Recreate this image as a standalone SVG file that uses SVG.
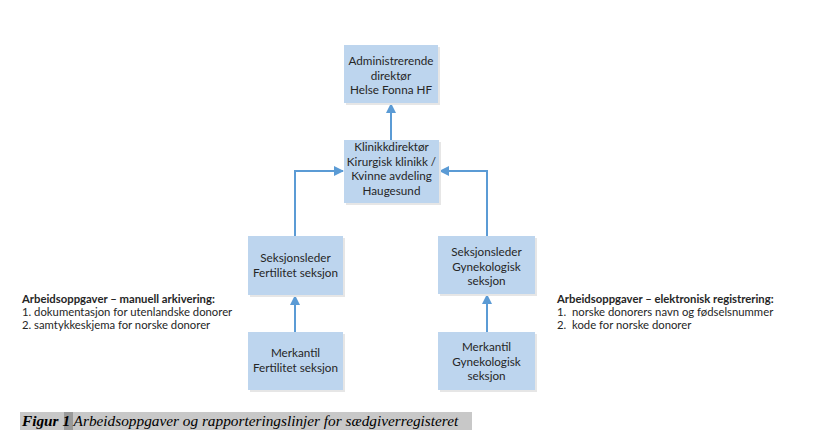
<svg xmlns="http://www.w3.org/2000/svg" width="814" height="447" viewBox="0 0 814 447">
<style>
.box{fill:#BDD5EE;stroke:none}
.sh{fill:#e6e6e6}
.t{font-family:Lato,"Liberation Sans",sans-serif;font-size:11.7px;fill:#262626;text-anchor:middle}
.n{font-family:Lato,"Liberation Sans",sans-serif;font-size:11.3px;fill:#262626}
.c{fill:none;stroke:#5B9BD5;stroke-width:2}
.cap{font-family:"Liberation Serif",serif;font-size:15.3px;font-style:italic;fill:#000}
</style>
<defs>
<marker id="ah" markerUnits="userSpaceOnUse" markerWidth="10" markerHeight="10" refX="9" refY="5" orient="auto">
<path d="M0,0 L10,5 L0,10 Z" fill="#5B9BD5"/>
</marker>
</defs>
<rect width="814" height="447" fill="#fff"/>
<g id="connectors">
<path class="c" d="M391,140 V104" marker-end="url(#ah)"/>
<path class="c" d="M295,236 V171 H343" marker-end="url(#ah)"/>
<path class="c" d="M487,236 V171 H440" marker-end="url(#ah)"/>
<path class="c" d="M295,332 V296" marker-end="url(#ah)"/>
<path class="c" d="M487,332 V295" marker-end="url(#ah)"/>
</g>
<g id="admin">
<rect class="sh" x="346" y="47" width="94" height="58"/>
<rect class="box" x="344" y="45" width="94" height="58"/>
<text class="t" x="391" y="65">Administrerende</text>
<text class="t" x="391" y="79.5">direktør</text>
<text class="t" x="391" y="94">Helse Fonna HF</text>
</g>
<g id="klinikk">
<rect class="sh" x="346" y="142" width="95" height="63"/>
<rect class="box" x="344" y="140" width="95" height="63"/>
<text class="t" x="391.5" y="151">Klinikkdirektør</text>
<text class="t" x="391.5" y="165.5">Kirurgisk klinikk /</text>
<text class="t" x="391.5" y="180">Kvinne avdeling</text>
<text class="t" x="391.5" y="194.5">Haugesund</text>
</g>
<g id="seksjon-fert">
<rect class="sh" x="250" y="238" width="95" height="59"/>
<rect class="box" x="248" y="236" width="95" height="59"/>
<text class="t" x="295.5" y="262">Seksjonsleder</text>
<text class="t" x="295.5" y="277">Fertilitet seksjon</text>
</g>
<g id="merkantil-fert">
<rect class="sh" x="250" y="334" width="95" height="58"/>
<rect class="box" x="248" y="332" width="95" height="58"/>
<text class="t" x="295.5" y="357">Merkantil</text>
<text class="t" x="295.5" y="372">Fertilitet seksjon</text>
</g>
<g id="seksjon-gyn">
<rect class="sh" x="440" y="238" width="97" height="58"/>
<rect class="box" x="438" y="236" width="97" height="58"/>
<text class="t" x="486.5" y="256">Seksjonsleder</text>
<text class="t" x="486.5" y="270.5">Gynekologisk</text>
<text class="t" x="486.5" y="285">seksjon</text>
</g>
<g id="merkantil-gyn">
<rect class="sh" x="440" y="334" width="97" height="58"/>
<rect class="box" x="438" y="332" width="97" height="58"/>
<text class="t" x="486.5" y="351">Merkantil</text>
<text class="t" x="486.5" y="365.5">Gynekologisk</text>
<text class="t" x="486.5" y="380">seksjon</text>
</g>
<g id="left-notes">
<text class="n" x="22" y="303" font-weight="bold">Arbeidsoppgaver – manuell arkivering:</text>
<text class="n" x="22" y="316">1. dokumentasjon for utenlandske donorer</text>
<text class="n" x="22" y="329">2. samtykkeskjema for norske donorer</text>
</g>
<g id="right-notes">
<text class="n" x="557" y="303" font-weight="bold">Arbeidsoppgaver – elektronisk registrering:</text>
<text class="n" x="557" y="316">1.</text>
<text class="n" x="572" y="316">norske donorers navn og fødselsnummer</text>
<text class="n" x="557" y="329">2.</text>
<text class="n" x="572" y="329">kode for norske donorer</text>
</g>
<g id="caption">
<rect x="20" y="412" width="452" height="18" fill="#c8c8c8"/>
<rect x="64" y="412" width="9" height="18" fill="#9a9a9a"/>
<text class="cap" x="22" y="426"><tspan font-weight="bold">Figur 1</tspan> Arbeidsoppgaver og rapporteringslinjer for sædgiverregisteret</text>
</g>
</svg>
